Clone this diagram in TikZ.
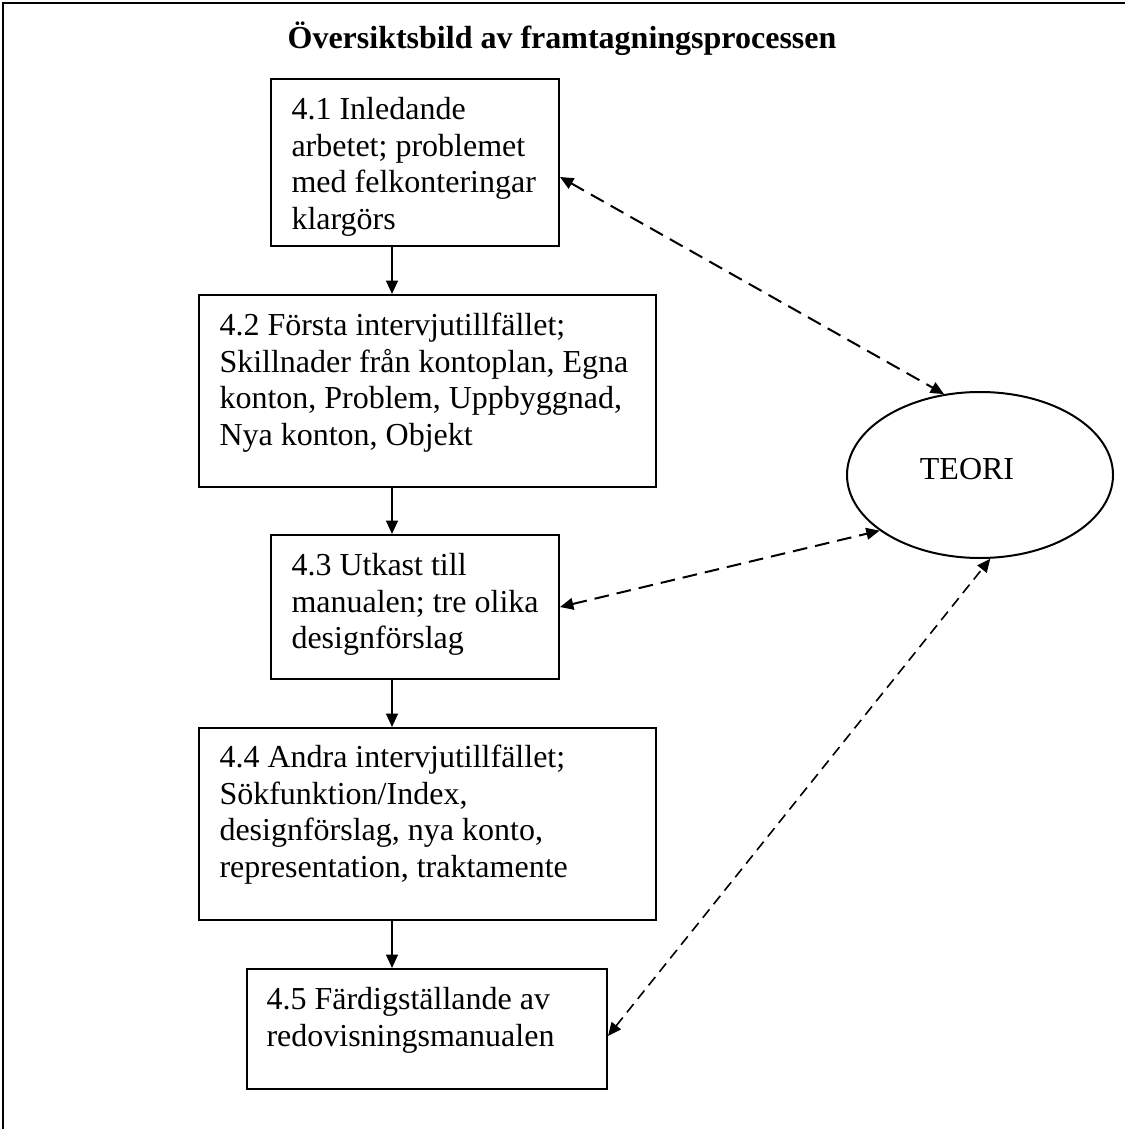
\documentclass[tikz,border=0pt]{standalone}
\usepackage{fontspec}
\setmainfont{Liberation Serif}
\usetikzlibrary{arrows.meta,shapes.geometric}

\begin{document}
\begin{tikzpicture}[x=0.375pt,y=-0.375pt,
    stepbox/.style={draw,line width=0.75pt,inner sep=0pt},
    boxtext/.style={anchor=north west,inner sep=0pt,align=left,font=\fontsize{12}{13.8}\selectfont},
    flow/.style={-{Triangle[length=5pt,width=4.4pt]},line width=0.75pt},
    link/.style={{Triangle[length=5pt,width=4.4pt]}-{Triangle[length=5pt,width=4.4pt]},line width=0.75pt,dash pattern=on 5.5pt off 3pt}]
  \useasboundingbox (0,0) rectangle (1125,1129);
  % frame and heading
  \draw[line width=0.75pt] (3,1129) -- (3,3) -- (1125,3);
  \node[font=\bfseries\fontsize{12}{13.8}\selectfont,anchor=base] (title) at (562,49) {Översiktsbild av framtagningsprocessen};
  % process steps
  \node[stepbox,minimum width=108pt,minimum height=62.6pt] (s1) at (415,162.5) {};
  \node[stepbox,minimum width=171.4pt,minimum height=72pt] (s2) at (427.5,391) {};
  \node[stepbox,minimum width=108pt,minimum height=54pt] (s3) at (415,607) {};
  \node[stepbox,minimum width=171.4pt,minimum height=72pt] (s4) at (427.5,824) {};
  \node[stepbox,minimum width=135pt,minimum height=45pt] (s5) at (427,1029) {};
  \node[boxtext] (t1) at ([shift={(21,15)}]s1.north west) {\strut 4.1 Inledande\\ arbetet; problemet\\ med felkonteringar\\ klargörs};
  \node[boxtext] (t2) at ([shift={(21,15)}]s2.north west) {\strut 4.2 Första intervjutillfället;\\ Skillnader från kontoplan, Egna\\ konton, Problem, Uppbyggnad,\\ Nya konton, Objekt};
  \node[boxtext] (t3) at ([shift={(21,15)}]s3.north west) {\strut 4.3 Utkast till\\ manualen; tre olika\\ designförslag};
  \node[boxtext] (t4) at ([shift={(21,14)}]s4.north west) {\strut 4.4 Andra intervjutillfället;\\ Sökfunktion/Index,\\ designförslag, nya konto,\\ representation, traktamente};
  \node[boxtext] (t5) at ([shift={(20,15)}]s5.north west) {\strut 4.5 Färdigställande av\\ redovisningsmanualen};
  % theory
  \node[draw,ellipse,line width=0.75pt,minimum width=99.75pt,minimum height=62.25pt,inner sep=0pt] (teori) at (980,475) {};
  \node[font=\fontsize{12}{13.8}\selectfont,anchor=base] (teorilabel) at (967,479) {TEORI};
  % connectors
  \coordinate (ax) at (392,0);
  \draw[flow] (s1.south -| ax) -- (s2.north -| ax);
  \draw[flow] (s2.south -| ax) -- (s3.north -| ax);
  \draw[flow] (s3.south -| ax) -- (s4.north -| ax);
  \draw[flow] (s4.south -| ax) -- (s5.north -| ax);
  \draw[link] ([shift={(0,14.5)}]s1.east) -- (teori.114);
  \draw[link] (s3.east) -- (teori.209);
  \draw[link,line width=0.6pt,dash pattern=on 4pt off 2.5pt] ([shift={(0,7)}]s5.east) -- (teori.277);
\end{tikzpicture}
\end{document}
